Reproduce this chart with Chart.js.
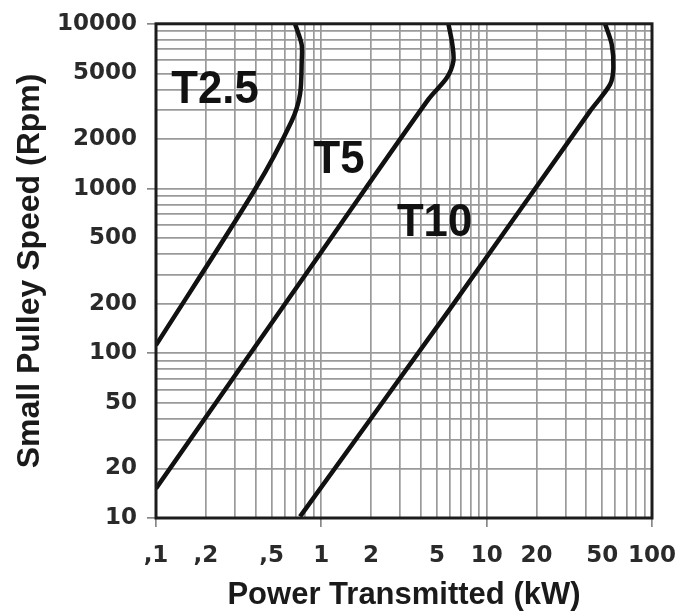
<!DOCTYPE html>
<html>
<head>
<meta charset="utf-8">
<script src="https://cdn.jsdelivr.net/npm/chart.js@4/dist/chart.umd.min.js"></script>
<style>
  body { margin: 0; background: #fff; }
  #wrap { width: 683px; height: 614px; }
</style>
</head>
<body>
<div id="wrap"><canvas id="myCanvas" width="683" height="614"></canvas></div>
<script>
// curves: power (kW) vs small pulley speed (rpm)
const powerT25 = [0.1, 0.40, 0.662, 0.743, 0.761, 0.76, 0.693];
const speedT25 = [112, 1000, 2570, 3730, 5930, 7500, 10000];
const powerT5 = [0.1, 1.0, 4.44, 5.74, 6.29, 6.2, 5.87];
const speedT5 = [15.1, 412, 3475, 4700, 5930, 7480, 10000];
const powerT10 = [0.743, 6.0, 42.2, 55.8, 58.4, 57.1, 52.0];
const speedT10 = [10.2, 186, 2950, 4285, 5400, 7480, 10000];

const curveNames = ['T2.5', 'T5', 'T10'];
const labelPower = [0.2275, 1.28, 4.84];
const labelSpeed = [4160, 1578, 651];

const xTickValues = [0.1, 0.2, 0.5, 1, 2, 5, 10, 20, 50, 100];
const xTickLabels = [',1', ',2', ',5', '1', '2', '5', '10', '20', '50', '100'];
const yTickValues = [10, 20, 50, 100, 200, 500, 1000, 2000, 5000, 10000];
const yTickLabels = ['10', '20', '50', '100', '200', '500', '1000', '2000', '5000', '10000'];

const xDecades = [0.1, 1, 10, 100];
const yDecades = [10, 100, 1000, 10000];

const toPoints = (xs, ys) => xs.map((v, i) => ({ x: v, y: ys[i] }));

// grid lines at 1..9 of every decade
const gridValues = decades => {
  let out = [];
  for (let i = 0; i < decades.length - 1; i++) {
    for (let m = 1; m < 10; m++) out.push(+(m * decades[i]).toPrecision(6));
  }
  out.push(decades[decades.length - 1]);
  return out;
};

const same = (a, b) => Math.abs(a - b) / b < 1e-6;
const findLabel = (v, values, labels) => {
  const i = values.findIndex(t => same(v, t));
  return i < 0 ? '' : labels[i];
};
const isDecade = (v, decades) => decades.some(d => same(v, d));

const tickFont = { family: '"DejaVu Sans", Verdana, sans-serif', size: 23, weight: 'bold' };

const decor = {
  id: 'decor',
  afterDraw(chart) {
    const { ctx, chartArea: a, scales: { x, y } } = chart;
    ctx.save();
    ctx.strokeStyle = '#1c1c1c';
    ctx.lineWidth = 3;
    ctx.strokeRect(a.left, a.top, a.right - a.left, a.bottom - a.top);
    ctx.fillStyle = '#111';
    const size = 47;
    ctx.font = 'bold ' + size + 'px "Liberation Sans", Arial, sans-serif';
    ctx.textAlign = 'center';
    ctx.textBaseline = 'alphabetic';
    curveNames.forEach((name, i) => {
      const px = x.getPixelForValue(labelPower[i]);
      const py = y.getPixelForValue(labelSpeed[i]);
      ctx.save();
      ctx.translate(px, py + size * 0.716 / 2);
      ctx.scale(0.93, 1);
      ctx.fillText(name, 0, 0);
      ctx.restore();
    });
    ctx.restore();
  }
};

const curve = (xs, ys) => ({
  data: toPoints(xs, ys),
  showLine: true,
  borderColor: '#111',
  borderWidth: 4.5,
  pointRadius: 0,
  tension: 0.3,
  fill: false
});

const ctx = document.getElementById('myCanvas').getContext('2d');

new Chart(ctx, {
  type: 'scatter',
  data: {
    datasets: [curve(powerT25, speedT25), curve(powerT5, speedT5), curve(powerT10, speedT10)]
  },
  options: {
    responsive: false,
    animation: false,
    layout: { padding: { left: 11, top: 22, right: 31, bottom: 0 } },
    plugins: { legend: { display: false }, tooltip: { enabled: false } },
    scales: {
      x: {
        type: 'logarithmic',
        min: 0.1,
        max: 100,
        afterBuildTicks: scale => { scale.ticks = gridValues(xDecades).map(v => ({ value: v })); },
        afterFit: scale => {
          scale.height = 96;
          scale.paddingLeft = 0;
          scale.paddingRight = 0;
        },
        border: { display: false },
        grid: {
          color: '#9a9a9a',
          lineWidth: 1.7,
          tickLength: 9,
          tickColor: c => isDecade(c.tick.value, xDecades) ? '#888' : 'rgba(0,0,0,0)'
        },
        ticks: {
          autoSkip: false,
          maxRotation: 0,
          padding: 15,
          color: '#2a2a2a',
          font: tickFont,
          callback: v => findLabel(v, xTickValues, xTickLabels)
        },
        title: {
          display: true,
          text: 'Power Transmitted (kW)',
          color: '#1a1a1a',
          font: { family: '"Liberation Sans", Arial, sans-serif', size: 31, weight: 'bold' },
          padding: { top: 0, bottom: 0 }
        }
      },
      y: {
        type: 'logarithmic',
        min: 10,
        max: 10000,
        afterBuildTicks: scale => { scale.ticks = gridValues(yDecades).map(v => ({ value: v })); },
        afterFit: scale => { scale.width = 145; },
        border: { display: false },
        grid: {
          color: '#9a9a9a',
          lineWidth: 1.7,
          tickLength: 9,
          tickColor: c => isDecade(c.tick.value, yDecades) ? '#888' : 'rgba(0,0,0,0)'
        },
        ticks: {
          autoSkip: false,
          padding: 10,
          color: '#2a2a2a',
          font: tickFont,
          callback: v => findLabel(v, yTickValues, yTickLabels)
        },
        title: {
          display: true,
          text: 'Small Pulley Speed (Rpm)',
          color: '#1a1a1a',
          font: { family: '"Liberation Sans", Arial, sans-serif', size: 32, weight: 'bold' },
          padding: { top: 0, bottom: 0 }
        }
      }
    }
  },
  plugins: [decor]
});
</script>
</body>
</html>
